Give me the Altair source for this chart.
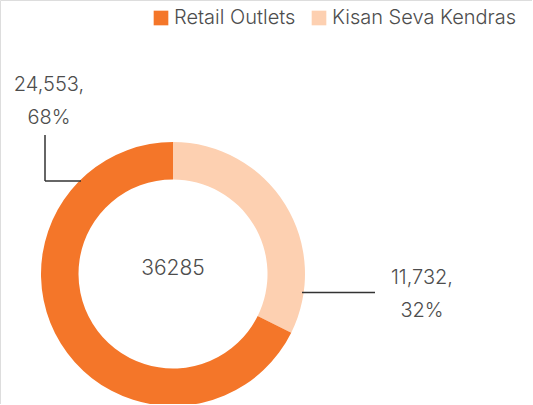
import altair as alt
import pandas as pd

# Outlet counts by channel
categories = ["Kisan Seva Kendras", "Retail Outlets"]
counts = [11732, 24553]
colors = ["#FDD0B1", "#F47629"]
legend_order = ["Retail Outlets", "Kisan Seva Kendras"]

total = sum(counts)
df = pd.DataFrame({
    "category": categories,
    "count": counts,
    "rank": list(range(len(categories))),
})
df["value_label"] = df["count"].map(lambda v: f"{v:,},")
df["pct_label"] = (df["count"] / total * 100).round().astype(int).astype(str) + "%"

FONT = "Inter"
TEXT = "#4d4d4d"
CX, CY = 173, 274

color_scale = alt.Scale(
    domain=legend_order,
    range=[colors[categories.index(c)] for c in legend_order],
)

ring = alt.Chart(df).mark_arc(innerRadius=94.5, outerRadius=132).encode(
    theta=alt.Theta("count:Q", stack=True),
    order=alt.Order("rank:Q"),
    color=alt.Color(
        "category:N",
        scale=color_scale,
        legend=alt.Legend(
            title=None,
            orient="none",
            legendX=151,
            legendY=8,
            direction="horizontal",
            symbolType="square",
            symbolSize=215,
            symbolStrokeWidth=0,
            labelFontSize=20,
            labelFont=FONT,
            labelFontWeight=300,
            labelColor=TEXT,
            labelOffset=3,
            labelLimit=300,
            columnPadding=13,
        ),
    ),
    x=alt.value(CX),
    y=alt.value(CY),
)

center = alt.Chart(pd.DataFrame({"total": [total]})).mark_text(
    font=FONT, fontSize=21, fontWeight=300, color=TEXT, baseline="middle", align="center"
).encode(text="total:Q", x=alt.value(CX), y=alt.value(CY - 5))


def label_layers(cat, x, y_top, gap):
    base = alt.Chart(df).transform_filter(alt.datum.category == cat)
    style = dict(font=FONT, fontSize=20, fontWeight=300, color=TEXT,
                 baseline="middle", align="center")
    first = base.mark_text(**style).encode(
        text="value_label:N", x=alt.value(x), y=alt.value(y_top)
    )
    second = base.mark_text(**style).encode(
        text="pct_label:N", x=alt.value(x), y=alt.value(y_top + gap)
    )
    return [first, second]


def leader(cat, x, x2, y, y2):
    return alt.Chart(df).transform_filter(alt.datum.category == cat).mark_rule(
        color="#333333", strokeWidth=1.5
    ).encode(x=alt.value(x), x2=alt.value(x2), y=alt.value(y), y2=alt.value(y2))


layers = [ring, center]
layers += label_layers("Retail Outlets", 49, 85, 32.5)
layers += label_layers("Kisan Seva Kendras", 422, 278, 32.5)
layers += [
    leader("Retail Outlets", 45, 45, 135, 181),
    leader("Retail Outlets", 45, 81, 181, 181),
    leader("Kisan Seva Kendras", 302, 375, 292.5, 292.5),
]

chart = alt.layer(*layers).properties(
    width=532,
    height=404,
    padding=0,
    autosize=alt.AutoSizeParams(type="none"),
).configure_view(stroke=None).configure(background="white")

chart.save("out.html", embed_options={"renderer": "svg", "actions": False})
